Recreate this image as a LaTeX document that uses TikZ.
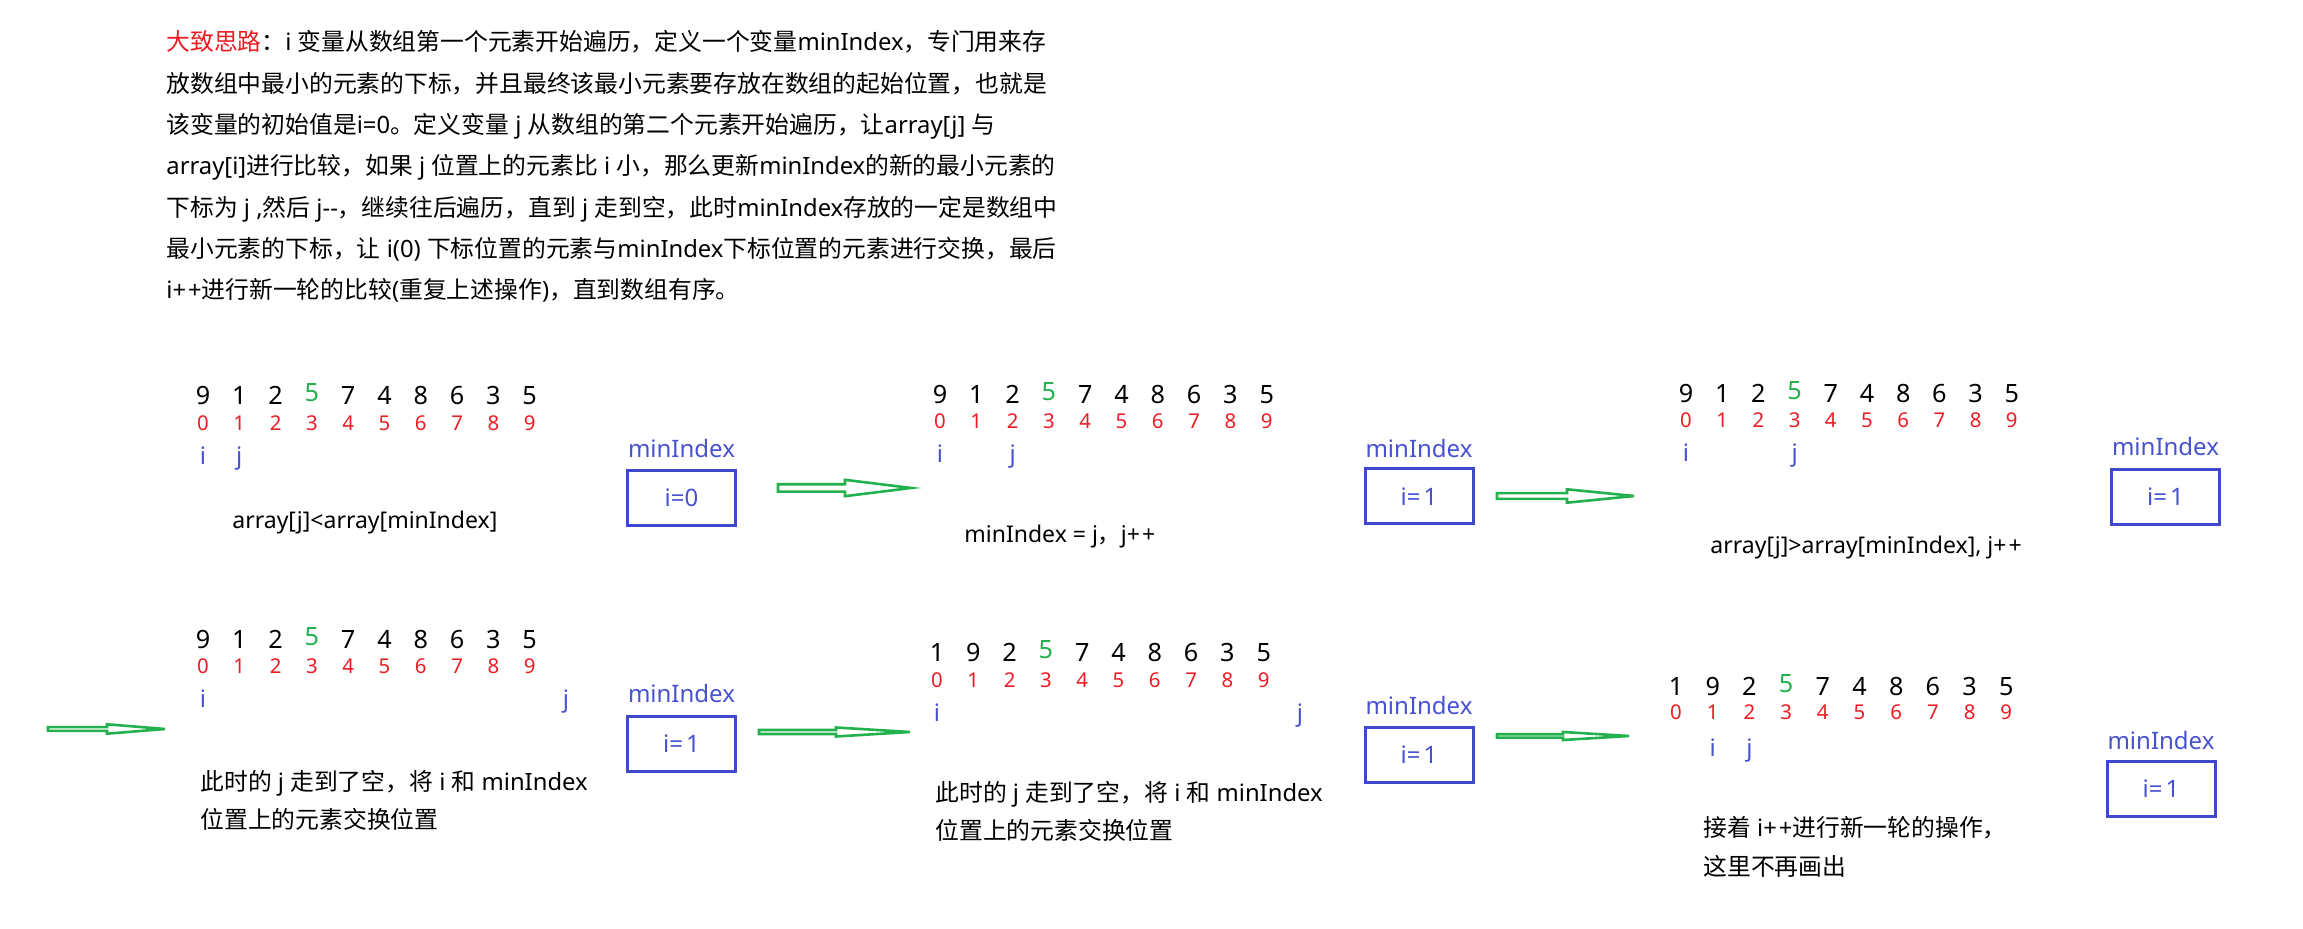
\documentclass[tikz,border=0pt]{standalone}
\usepackage{fontspec}
\setmainfont{Noto Sans}
\newfontfamily\zhfont{Noto Sans CJK SC}
\newcommand\zh[1]{{\zhfont #1}}
\definecolor{myred}{RGB}{237,28,36}
\definecolor{grn}{RGB}{34,177,76}
\definecolor{blu}{RGB}{63,72,204}
\definecolor{blt}{RGB}{72,82,208}
\newcommand\gfive{\textcolor{grn}{\raisebox{1.5pt}{5}}}
\tikzset{
  digit/.style={anchor=base, inner sep=0pt, font=\fontsize{12.6}{14}\selectfont},
  idxnum/.style={anchor=base, inner sep=0pt, text=myred, font=\fontsize{10.2}{12}\selectfont},
  ptrlbl/.style={anchor=base, inner sep=0pt, text=blt, font=\fontsize{12}{13}\selectfont},
  mlabel/.style={anchor=base, inner sep=0pt, text=blt, font=\fontsize{12}{14}\selectfont},
  mbox/.style={draw=blu, line width=1.5pt, minimum width=54pt, minimum height=27.5pt, text=blt, inner sep=0pt, font=\fontsize{12}{14}\selectfont},
  captext/.style={anchor=base west, inner sep=0pt, font=\fontsize{11.5}{14}\selectfont},
  zhtext/.style={anchor=base west, inner sep=0pt, font=\fontsize{11.9}{14}\selectfont},
  paraline/.style={anchor=base west, inner sep=0pt, font=\fontsize{11.9}{14}\selectfont},
  greenarrow/.style={draw=grn, line width=1.3pt, line join=miter}
}
% #1 prefix, #2 x0, #3 spacing, #4 baseline, #5 list
\newcommand\digitrow[5]{%
  \foreach \d [count=\k from 0] in {#5} {\node[digit] (#1v\k) at ({#2+#3*\k},#4) {\d};}}
\newcommand\idxrow[4]{%
  \foreach \k in {0,...,9} {\node[idxnum] (#1r\k) at ({#2+#3*\k},#4) {\k};}}
\newcommand\garr[6]{%
  \draw[greenarrow] ({#1},{#4-#5}) -- ({#2},{#4-#5}) -- ({#2},{#4-#6}) -- ({#3},{#4})
    -- ({#2},{#4+#6}) -- ({#2},{#4+#5}) -- ({#1},{#4+#5}) -- cycle;}
\begin{document}
\begin{tikzpicture}[x=0.5pt,y=-0.5pt]
\path[use as bounding box, fill=white] (0,0) rectangle (2303,929);

% explanation paragraph
\node[paraline] (l1) at (166,51) {\textcolor{myred}{\zh{大致思路}}\zh{：}i \zh{变量从数组第一个元素开始遍历，定义一个变量}minIndex\zh{，专门用来存}};
\node[paraline] (l2) at (166,92.3) {\zh{放数组中最小的元素的下标，并且最终该最小元素要存放在数组的起始位置，也就是}};
\node[paraline] (l3) at (166,133.6) {\zh{该变量的初始值是}i=0\zh{。定义变量} j \zh{从数组的第二个元素开始遍历，让}array[j] \zh{与}};
\node[paraline] (l4) at (166,174.9) {array[i]\zh{进行比较，如果} j \zh{位置上的元素比} i \zh{小，那么更新}minIndex\zh{的新的最小元素的}};
\node[paraline] (l5) at (166,216.2) {\zh{下标为} j ,\zh{然后} j-{}-\zh{，继续往后遍历，直到} j \zh{走到空，此时}minIndex\zh{存放的一定是数组中}};
\node[paraline] (l6) at (166,257.5) {\zh{最小元素的下标，让} i(0) \zh{下标位置的元素与}minIndex\zh{下标位置的元素进行交换，最后}};
\node[paraline] (l7) at (166,298.8) {i+\kern1pt+\zh{进行新一轮的比较}(\zh{重复上述操作})\zh{，直到数组有序。}};

% panel 1
\digitrow{a}{203}{36.3}{404.5}{9,1,2,\gfive,7,4,8,6,3,5}
\idxrow{a}{203}{36.3}{431}
\node[ptrlbl] (ai) at (203,465) {i};
\node[ptrlbl] (aj) at (239.3,465) {j};
\node[captext] (acap) at (232,529) {array[j]<array[minIndex]};
\node[mlabel] (alab) at (681.5,458) {minIndex};
\node[mbox] (abox) at (681.5,498) {i=0};

% panel 2
\digitrow{b}{940}{36.3}{403.5}{9,1,2,\gfive,7,4,8,6,3,5}
\idxrow{b}{940}{36.3}{429}
\node[ptrlbl] (bi) at (940,463) {i};
\node[ptrlbl] (bj) at (1012.6,463) {j};
\node[captext] (bcap) at (964,543) {minIndex = j\zh{，}j+\kern1pt+};
\node[mlabel] (blab) at (1419,458) {minIndex};
\node[mbox] (bbox) at (1419,496.5) {i=\kern1.5pt1};

% panel 3
\digitrow{c}{1686}{36.2}{402.5}{9,1,2,\gfive,7,4,8,6,3,5}
\idxrow{c}{1686}{36.2}{428}
\node[ptrlbl] (ci) at (1686,462) {i};
\node[ptrlbl] (cj) at (1794.6,462) {j};
\node[captext] (ccap) at (1710,554) {array[j]>array[minIndex], j+\kern1pt+};
\node[mlabel] (clab) at (2165.5,456) {minIndex};
\node[mbox] (cbox) at (2165.5,497) {i=\kern1.5pt1};

% panel 4
\digitrow{d}{203}{36.3}{648.5}{9,1,2,\gfive,7,4,8,6,3,5}
\idxrow{d}{203}{36.3}{674}
\node[ptrlbl] (di) at (203,708) {i};
\node[ptrlbl] (dj) at (566,708) {j};
\node[zhtext] (dt1) at (200,791) {\zh{此时的} j \zh{走到了空，将} i \zh{和} minIndex};
\node[zhtext] (dt2) at (200,829) {\zh{位置上的元素交换位置}};
\node[mlabel] (dlab) at (681.5,703) {minIndex};
\node[mbox] (dbox) at (681.5,744) {i=\kern1.5pt1};

% panel 5
\digitrow{e}{937}{36.3}{661.5}{1,9,2,\gfive,7,4,8,6,3,5}
\idxrow{e}{937}{36.3}{688}
\node[ptrlbl] (ei) at (937,722) {i};
\node[ptrlbl] (ej) at (1300,722) {j};
\node[zhtext] (et1) at (935,802) {\zh{此时的} j \zh{走到了空，将} i \zh{和} minIndex};
\node[zhtext] (et2) at (935,840) {\zh{位置上的元素交换位置}};
\node[mlabel] (elab) at (1419,715) {minIndex};
\node[mbox] (ebox) at (1419,755) {i=\kern1.5pt1};

% panel 6
\digitrow{f}{1676}{36.7}{695.5}{1,9,2,\gfive,7,4,8,6,3,5}
\idxrow{f}{1676}{36.7}{720}
\node[ptrlbl] (fi) at (1712.7,757) {i};
\node[ptrlbl] (fj) at (1749.4,757) {j};
\node[zhtext] (ft1) at (1703,837) {\zh{接着} i+\kern1pt+\zh{进行新一轮的操作，}};
\node[zhtext] (ft2) at (1703,876) {\zh{这里不再画出}};
\node[mlabel] (flab) at (2161,750) {minIndex};
\node[mbox] (fbox) at (2161,789) {i=\kern1.5pt1};

% green hollow arrows
\garr{778}{845}{911}{488}{3.7}{8.2}
\garr{1497}{1567}{1634}{496}{2.9}{6.7}
\garr{48}{107}{165}{729}{1.9}{4.7}
\garr{759}{836}{910}{732}{2.0}{4.5}
\garr{1497}{1563}{1629}{736}{1.7}{4.0}
\end{tikzpicture}
\end{document}
